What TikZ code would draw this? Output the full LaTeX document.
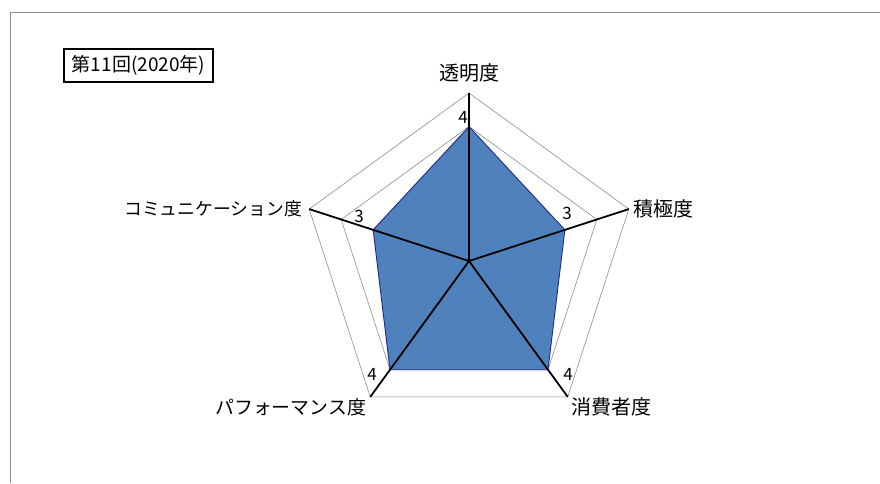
\documentclass[tikz,border=0pt]{standalone}
\usepackage{fontspec}
\setmainfont{Noto Sans CJK JP}
\usetikzlibrary{calc}
\definecolor{fillblue}{HTML}{4F81BD}
\definecolor{edgeblue}{HTML}{1F2A8C}
\definecolor{gridgray}{HTML}{8C8C8C}
\tikzset{
  gridline/.style={draw=gridgray,line width=0.6pt},
  axisline/.style={draw=black,line width=1.8pt},
  axlabel/.style={font=\fontsize{20}{20}\selectfont,inner sep=0pt},
  kanalabel/.style={inner sep=0pt},
  vallabel/.style={font=\fontsize{17}{17}\selectfont,inner sep=0pt},
  titlebox/.style={draw=black,line width=1.5pt,minimum width=149pt,minimum height=33pt,inner sep=0pt,font=\fontsize{19}{19}\selectfont}
}
\begin{document}
\begin{tikzpicture}[x=1pt,y=1pt]
\useasboundingbox (0,0) rectangle (880,483);
% frame
\coordinate (fa) at (10,0);
\coordinate (fb) at (10,471);
\coordinate (fc) at (880,471);
\draw[draw=gridgray,line width=0.9pt] (fa) -- (fb) -- (fc);
% center
\coordinate (c) at (469,222);
% grid pentagons
\foreach \k in {1,...,5}{
  \pgfmathsetmacro{\r}{33.6*\k}
  \draw[gridline] ($(c)+(90:\r pt)$) -- ($(c)+(18:\r pt)$) -- ($(c)+(-54:\r pt)$) -- ($(c)+(234:\r pt)$) -- ($(c)+(162:\r pt)$) -- cycle;
}
% data vertices
\coordinate (d1) at ($(c)+(90:134.4pt)$);
\coordinate (d2) at ($(c)+(18:100.8pt)$);
\coordinate (d3) at ($(c)+(-54:134.4pt)$);
\coordinate (d4) at ($(c)+(234:134.4pt)$);
\coordinate (d5) at ($(c)+(162:100.8pt)$);
\fill[fillblue] (d1) -- (d2) -- (d3) -- (d4) -- (d5) -- cycle;
\draw[draw=edgeblue,line width=0.9pt,line join=round] (d1) -- (d2) -- (d3) -- (d4) -- (d5) -- cycle;
% outer vertices
\coordinate (o1) at ($(c)+(90:168pt)$);
\coordinate (o2) at ($(c)+(18:168pt)$);
\coordinate (o3) at ($(c)+(-54:168pt)$);
\coordinate (o4) at ($(c)+(234:168pt)$);
\coordinate (o5) at ($(c)+(162:168pt)$);
\foreach \o in {o1,o2,o3,o4,o5}{
  \draw[axisline] (c) -- (\o);
}
% axis labels
\node[axlabel,anchor=south] (l1) at ($(o1)+(0,11)$) {透明度};
\node[axlabel,anchor=west] (l2) at ($(o2)+(5,0)$) {積極度};
\node[axlabel,anchor=west] (l3) at ($(o3)+(4,-10)$) {消費者度};
\node[kanalabel,font=\fontsize{18.9}{19}\selectfont,anchor=east] (l4) at ($(o4)+(-4,-10)$) {パフォーマンス度};
\node[kanalabel,font=\fontsize{17.8}{18}\selectfont,anchor=east] (l5) at ($(o5)+(-7,0)$) {コミュニケーション度};
% value labels
\node[vallabel] (v1) at (463,366) {4};
\node[vallabel] (v2) at (567,270) {3};
\node[vallabel] (v3) at (568,109) {4};
\node[vallabel] (v4) at (372,109) {4};
\node[vallabel] (v5) at (359,267) {3};
% title
\node[titlebox] (title) at (138.5,417.5) {第11回(2020年)};
\end{tikzpicture}
\end{document}
